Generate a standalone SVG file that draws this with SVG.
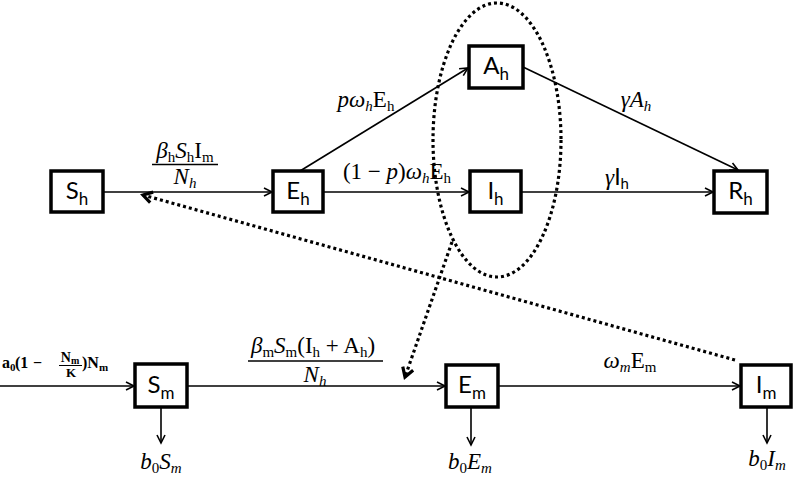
<svg xmlns="http://www.w3.org/2000/svg" width="794" height="477" viewBox="0 0 794 477">
<style>
.box{fill:#fff;stroke:#000;stroke-width:3.5}
.bl{font-family:Lato,"Open Sans","Liberation Sans",sans-serif;font-size:24px;fill:#000}
.m{font-family:"Liberation Serif","DejaVu Serif",serif;font-size:23px;fill:#000}
.s{font-family:"Liberation Serif","DejaVu Serif",serif;font-weight:bold;fill:#000}
.i{font-style:italic}
.ln{stroke:#000;stroke-width:1.6;fill:none}
.dot{stroke:#000;stroke-width:3.2;fill:none;stroke-dasharray:3 3}
</style>
<defs>
<marker id="ah" markerUnits="userSpaceOnUse" markerWidth="12" markerHeight="12" refX="9" refY="5" orient="auto">
<path d="M1,1 L9,5 L1,9" fill="none" stroke="#000" stroke-width="1.6"/>
</marker>
<marker id="dh" markerUnits="userSpaceOnUse" markerWidth="16" markerHeight="16" refX="11" refY="7" orient="auto">
<path d="M2,1.5 L11,7 L2,12.5" fill="none" stroke="#000" stroke-width="3.2"/>
</marker>
</defs>

<g id="connectors">
<line class="ln" x1="103" y1="192" x2="272" y2="192" marker-end="url(#ah)"/>
<line class="ln" x1="323" y1="192" x2="469" y2="192" marker-end="url(#ah)"/>
<line class="ln" x1="521" y1="192" x2="713" y2="192" marker-end="url(#ah)"/>
<line class="ln" x1="300" y1="171" x2="468" y2="68" marker-end="url(#ah)"/>
<line class="ln" x1="523" y1="67" x2="738" y2="170" marker-end="url(#ah)"/>
<line class="ln" x1="0" y1="386" x2="134" y2="386" marker-end="url(#ah)"/>
<line class="ln" x1="187" y1="386" x2="445" y2="386" marker-end="url(#ah)"/>
<line class="ln" x1="498" y1="386" x2="740" y2="386" marker-end="url(#ah)"/>
<line class="ln" x1="161" y1="407" x2="161" y2="443" marker-end="url(#ah)"/>
<line class="ln" x1="471" y1="407" x2="471" y2="445" marker-end="url(#ah)"/>
<line class="ln" x1="767" y1="407" x2="767" y2="443" marker-end="url(#ah)"/>
<ellipse class="dot" cx="497" cy="140" rx="64" ry="137"/>
<line class="dot" x1="735" y1="360" x2="143" y2="195" marker-end="url(#dh)"/>
<line class="dot" x1="452" y1="242" x2="405" y2="377" marker-end="url(#dh)"/>
</g>

<g id="Sh"><rect class="box" x="51" y="171" width="52" height="41"/><text class="bl" x="77" y="199" text-anchor="middle">S<tspan dy="6" font-size="17">h</tspan></text></g>
<g id="Eh"><rect class="box" x="273" y="171" width="50" height="41"/><text class="bl" x="298" y="199" text-anchor="middle">E<tspan dy="6" font-size="17">h</tspan></text></g>
<g id="Ih"><rect class="box" x="470" y="171" width="51" height="41"/><text class="bl" x="495.5" y="199" text-anchor="middle">I<tspan dy="6" font-size="17">h</tspan></text></g>
<g id="Ah"><rect class="box" x="469" y="46" width="54" height="42"/><text class="bl" x="496" y="74" text-anchor="middle">A<tspan dy="6" font-size="17">h</tspan></text></g>
<g id="Rh"><rect class="box" x="714" y="171" width="53" height="42"/><text class="bl" x="740.5" y="199" text-anchor="middle">R<tspan dy="6" font-size="17">h</tspan></text></g>
<g id="Sm"><rect class="box" x="135" y="364" width="52" height="43"/><text class="bl" x="161" y="393" text-anchor="middle">S<tspan dy="6" font-size="17">m</tspan></text></g>
<g id="Em"><rect class="box" x="446" y="365" width="52" height="42"/><text class="bl" x="472" y="393" text-anchor="middle">E<tspan dy="6" font-size="17">m</tspan></text></g>
<g id="Im"><rect class="box" x="741" y="365" width="50" height="42"/><text class="bl" x="766" y="393" text-anchor="middle">I<tspan dy="6" font-size="17">m</tspan></text></g>

<g id="labels">
<text class="m" x="185" y="158" text-anchor="middle"><tspan class="i">β</tspan><tspan dy="4" font-size="15">h</tspan><tspan dy="-4" class="i">S</tspan><tspan dy="4" font-size="15">h</tspan><tspan dy="-4">I</tspan><tspan dy="4" font-size="15">m</tspan></text>
<line x1="152" y1="164.5" x2="218" y2="164.5" stroke="#000" stroke-width="1.6"/>
<text class="m" x="185" y="184" text-anchor="middle"><tspan class="i">N</tspan><tspan dy="4" font-size="15" class="i">h</tspan></text>

<text class="m" x="397" y="179" text-anchor="middle">(1 − <tspan class="i">p</tspan>)<tspan class="i">ω</tspan><tspan dy="4" font-size="15" class="i">h</tspan><tspan dy="-4">E</tspan><tspan dy="4" font-size="15">h</tspan></text>
<text class="m" x="366" y="107" text-anchor="middle"><tspan class="i">p</tspan><tspan class="i">ω</tspan><tspan dy="4" font-size="15" class="i">h</tspan><tspan dy="-4">E</tspan><tspan dy="4" font-size="15">h</tspan></text>
<text class="m" x="636" y="107" text-anchor="middle"><tspan class="i">γA</tspan><tspan dy="4" font-size="15" class="i">h</tspan></text>
<text class="m" x="617" y="185" text-anchor="middle"><tspan class="i">γ</tspan><tspan font-family="Lato,'Liberation Sans',sans-serif">I</tspan><tspan dy="4" font-size="15" font-family="Lato,'Liberation Sans',sans-serif">h</tspan></text>

<text class="m" x="313" y="353" text-anchor="middle"><tspan class="i">β</tspan><tspan dy="4" font-size="15">m</tspan><tspan dy="-4" class="i">S</tspan><tspan dy="4" font-size="15">m</tspan><tspan dy="-4">(I</tspan><tspan dy="4" font-size="15">h</tspan><tspan dy="-4"> + A</tspan><tspan dy="4" font-size="15">h</tspan><tspan dy="-4">)</tspan></text>
<line x1="248" y1="361" x2="383" y2="361" stroke="#000" stroke-width="1.6"/>
<text class="m" x="315" y="382" text-anchor="middle"><tspan class="i">N</tspan><tspan dy="4" font-size="15" class="i">h</tspan></text>

<text class="m" x="630" y="368" text-anchor="middle"><tspan class="i">ω</tspan><tspan dy="4" font-size="15" class="i">m</tspan><tspan dy="-4">E</tspan><tspan dy="4" font-size="15">m</tspan></text>

<text class="s" style="font-size:16px" x="2" y="368">a<tspan dy="3" style="font-size:11px">0</tspan><tspan dy="-3" x="15">(1</tspan><tspan x="33">−</tspan></text>
<text class="s" style="font-size:14px" x="70" y="362" text-anchor="middle">N<tspan dy="2" style="font-size:10px">m</tspan></text>
<line x1="59" y1="365.5" x2="82" y2="365.5" stroke="#000" stroke-width="1"/>
<text class="s" style="font-size:13px" x="71" y="377" text-anchor="middle">K</text>
<text class="s" style="font-size:16px" x="82" y="368">)N<tspan dy="3" style="font-size:11px">m</tspan></text>

<text class="m" x="161" y="469" text-anchor="middle"><tspan class="i">b</tspan><tspan dy="4" font-size="15">0</tspan><tspan dy="-4" class="i">S</tspan><tspan dy="4" font-size="15" class="i">m</tspan></text>
<text class="m" x="470" y="469" text-anchor="middle"><tspan class="i">b</tspan><tspan dy="4" font-size="15">0</tspan><tspan dy="-4" class="i">E</tspan><tspan dy="4" font-size="15" class="i">m</tspan></text>
<text class="m" x="767" y="466" text-anchor="middle"><tspan class="i">b</tspan><tspan dy="4" font-size="15">0</tspan><tspan dy="-4" class="i">I</tspan><tspan dy="4" font-size="15" class="i">m</tspan></text>
</g>
</svg>
